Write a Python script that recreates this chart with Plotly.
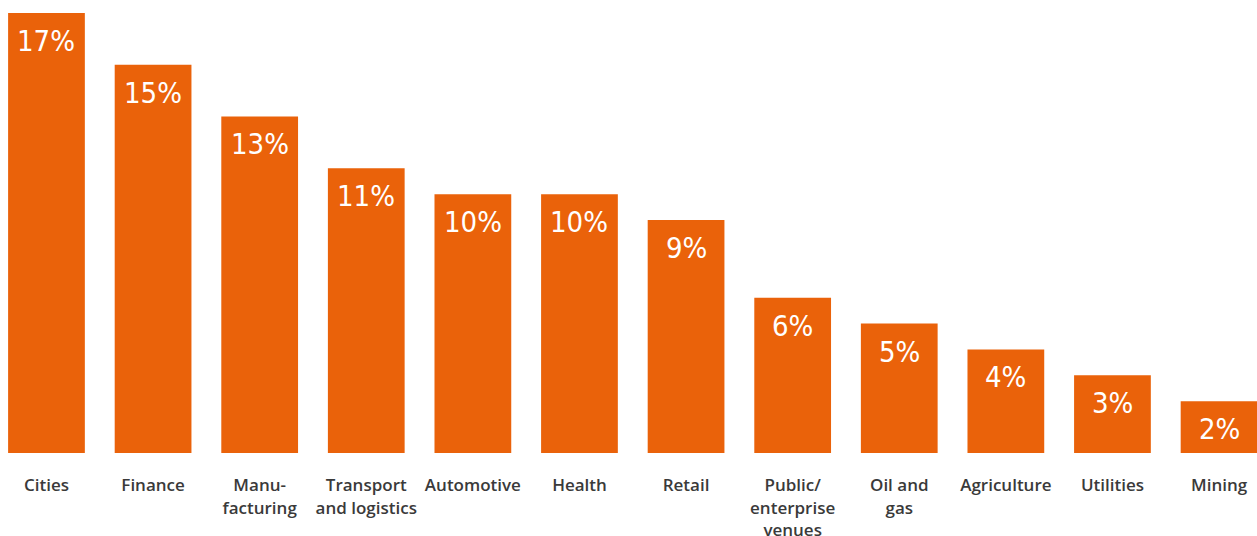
import plotly.graph_objects as go

# Share of IoT deployments by sector (%)
sectors = [
    "Cities", "Finance", "Manu-<br>facturing", "Transport<br>and logistics",
    "Automotive", "Health", "Retail", "Public/<br>enterprise<br>venues",
    "Oil and<br>gas", "Agriculture", "Utilities", "Mining",
]
shares = [17, 15, 13, 11, 10, 10, 9, 6, 5, 4, 3, 2]

ORANGE = "#EA620A"
TEXT = "#3A3A3A"

positions = list(range(len(sectors)))

fig = go.Figure(
    go.Bar(
        x=positions,
        y=shares,
        width=0.72,
        marker=dict(color=ORANGE, line=dict(width=0)),
        hoverinfo="skip",
    )
)

# Value labels inside the top of each bar
for xi, v in zip(positions, shares):
    fig.add_annotation(
        x=xi, y=v, text=f"{v}%", showarrow=False,
        yanchor="top", yshift=-9,
        font=dict(family="DejaVu Sans Condensed, Roboto, sans-serif",
                  size=29, color="white", weight=300),
    )

fig.update_layout(
    width=1257, height=536,
    margin=dict(l=0, r=0, t=0, b=83, autoexpand=False),
    paper_bgcolor="white", plot_bgcolor="white",
    showlegend=False,
    xaxis=dict(
        range=[-0.436, 11.356],
        tickmode="array", tickvals=positions, ticktext=sectors,
        showgrid=False, zeroline=False, showline=False,
        ticks="outside", ticklen=17, tickcolor="rgba(0,0,0,0)",
        tickfont=dict(family="Open Sans, Lato, sans-serif", size=17,
                      color=TEXT, weight=600),
        automargin=False,
        fixedrange=True,
    ),
    yaxis=dict(
        range=[0, 17.5], visible=False, fixedrange=True,
    ),
)

fig.write_html("out.html")
